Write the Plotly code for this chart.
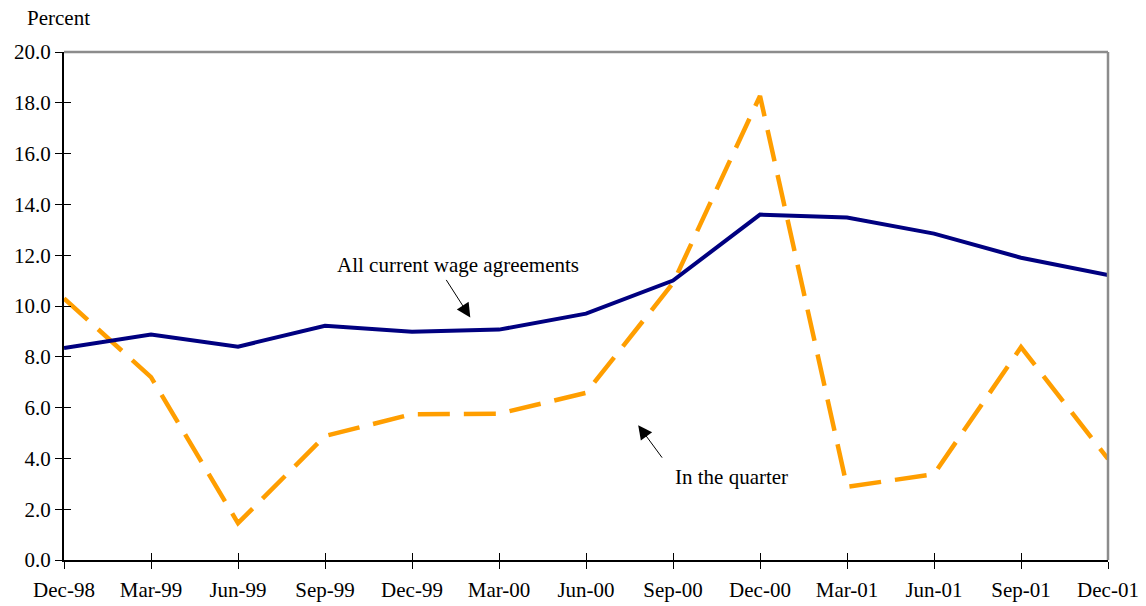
import plotly.graph_objects as go

quarters = ["Dec-98", "Mar-99", "Jun-99", "Sep-99", "Dec-99", "Mar-00", "Jun-00",
            "Sep-00", "Dec-00", "Mar-01", "Jun-01", "Sep-01", "Dec-01"]
all_current = [8.35, 8.88, 8.40, 9.22, 8.99, 9.07, 9.70, 11.0, 13.6, 13.48, 12.85, 11.9, 11.22]
in_quarter = [10.3, 7.2, 1.45, 4.88, 5.74, 5.76, 6.58, 10.9, 18.27, 2.88, 3.38, 8.38, 3.98]
y_ticks = [0, 2, 4, 6, 8, 10, 12, 14, 16, 18, 20]

idx = list(range(len(quarters)))
serif = "Liberation Serif, Times New Roman, serif"
FS = 21

fig = go.Figure()
fig.add_trace(go.Scatter(x=idx, y=in_quarter, mode="lines",
                         line=dict(color="#FF9E00", width=4.5, dash="32px,14px"),
                         showlegend=False, hoverinfo="skip"))
fig.add_trace(go.Scatter(x=idx, y=all_current, mode="lines",
                         line=dict(color="#000080", width=4),
                         showlegend=False, hoverinfo="skip"))

# invisible trace so the inner half of the tick marks can be drawn on overlay axes
fig.add_trace(go.Scatter(x=[0, 12], y=[0, 20], xaxis="x2", yaxis="y2", mode="markers",
                         marker=dict(opacity=0), showlegend=False, hoverinfo="skip"))

axis_font = dict(family=serif, size=FS, color="black")
fig.update_layout(
    width=1146, height=606,
    margin=dict(l=64, r=38, t=52, b=46),
    plot_bgcolor="white", paper_bgcolor="white",
    xaxis=dict(range=[0, 12], tickmode="array", tickvals=idx, ticktext=quarters,
               ticks="outside", ticklen=7, tickcolor="black", tickwidth=1,
               showline=True, linecolor="black", linewidth=2, showgrid=False,
               zeroline=False, tickfont=axis_font, automargin=False,
               ticklabelstandoff=3),
    yaxis=dict(range=[0, 20], tickmode="array", tickvals=y_ticks,
               ticktext=[f"{v:.1f}" for v in y_ticks],
               ticks="outside", ticklen=7, tickcolor="black", tickwidth=1,
               showline=True, linecolor="black", linewidth=2, showgrid=False,
               zeroline=False, tickfont=axis_font, automargin=False),
    xaxis2=dict(range=[0, 12], overlaying="x", tickmode="array", automargin=False,
                tickvals=idx, ticks="inside", ticklen=7, tickcolor="black",
                showticklabels=False, showgrid=False, zeroline=False, showline=False),
    yaxis2=dict(range=[0, 20], overlaying="y", tickmode="array", tickvals=y_ticks,
                ticks="inside", ticklen=7, tickcolor="black", automargin=False,
                showticklabels=False, showgrid=False, zeroline=False, showline=False),
)

# grey frame on top and right
fig.add_shape(type="line", xref="paper", yref="paper", x0=0, x1=1, y0=1, y1=1,
              line=dict(color="#8c8c8c", width=2.5))
fig.add_shape(type="line", xref="paper", yref="paper", x0=1, x1=1, y0=0, y1=1,
              line=dict(color="#8c8c8c", width=2.5))

fig.add_annotation(x=4.53, y=11.6, text="All current wage agreements", showarrow=False,
                   font=dict(family=serif, size=FS, color="black"))
fig.add_annotation(x=4.67, y=9.55, ax=-25, ay=-39, text="", showarrow=True,
                   arrowhead=2, arrowsize=2.8, arrowwidth=1, arrowcolor="black")
fig.add_annotation(x=7.67, y=3.27, text="In the quarter", showarrow=False,
                   font=dict(family=serif, size=FS, color="black"))
fig.add_annotation(x=6.6, y=5.31, ax=25, ay=34, text="", showarrow=True,
                   arrowhead=2, arrowsize=2.8, arrowwidth=1, arrowcolor="black")
fig.add_annotation(xref="paper", yref="paper", x=-0.005, y=1.067, xanchor="center",
                   yanchor="middle", text="Percent", showarrow=False,
                   font=dict(family=serif, size=FS, color="black"))

fig.write_html("out.html")
